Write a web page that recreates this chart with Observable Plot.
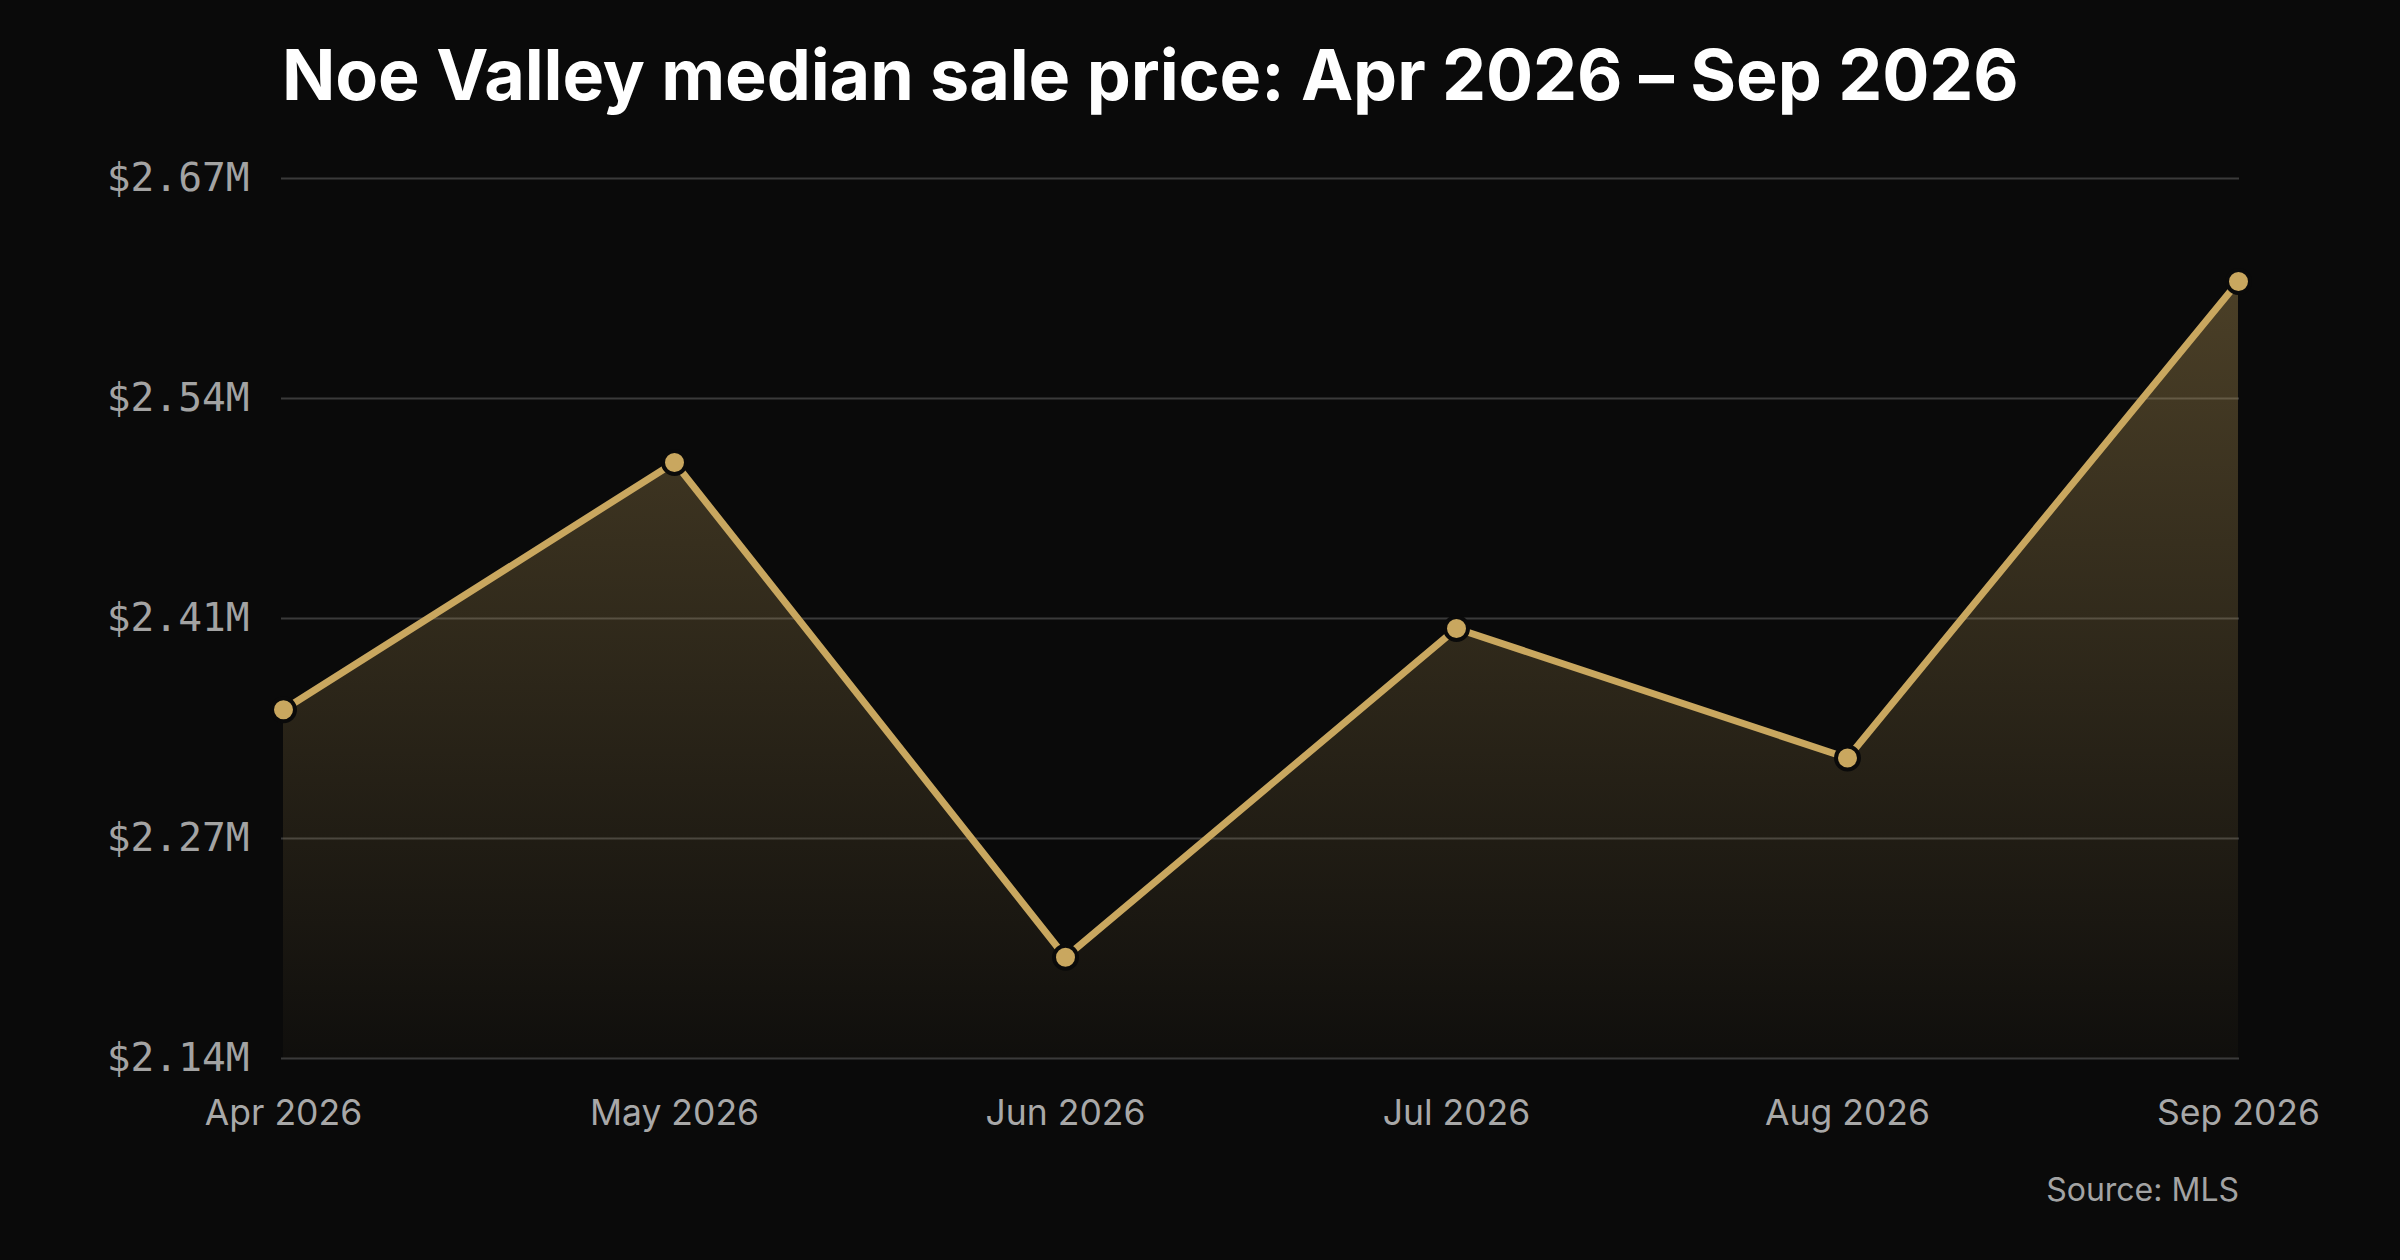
<!DOCTYPE html>
<html>
<head>
<meta charset="utf-8">
<script src="https://cdn.jsdelivr.net/npm/d3@7"></script>
<script src="https://cdn.jsdelivr.net/npm/@observablehq/plot@0.6"></script>
<style>
  html, body { margin: 0; padding: 0; background: #0a0a0a; }
  body { width: 2400px; height: 1260px; overflow: hidden; }
  #title { margin: 0; padding: 40px 0 0 282px; font-family: Inter, "Noto Sans", sans-serif; font-weight: 700; font-size: 70px; line-height: 70px; color: #ffffff; letter-spacing: -0.1px; white-space: nowrap; }
  #caption { padding: 20px 161px 0 0; text-align: right; font-family: Inter, "Noto Sans", sans-serif; font-size: 32px; line-height: 32px; color: #a3a3a3; }
</style>
</head>
<body>
<div id="title">Noe Valley median sale price: Apr 2026 – Sep 2026</div>
<div id="chart"></div>
<div id="caption">Source: MLS</div>
<script>
const months = ["Apr 2026", "May 2026", "Jun 2026", "Jul 2026", "Aug 2026", "Sep 2026"];
const prices = [2350000, 2499000, 2201000, 2399000, 2321000, 2608000];
const yDomain = [2140000, 2670000];
const yTicks = [2140000, 2272500, 2405000, 2537500, 2670000];
const yTickLabels = ["$2.14M", "$2.27M", "$2.41M", "$2.54M", "$2.67M"];

const data = months.map((m, i) => ({month: m, price: prices[i]}));
const gold = "#c9a75f";
const bg = "#0a0a0a";

const chart = Plot.plot({
  width: 2400,
  height: 1044,
  marginTop: 68,
  marginBottom: 96,
  marginLeft: 281,
  marginRight: 161,
  style: {background: bg, color: "#a3a3a3", overflow: "visible"},
  x: {type: "point", domain: months, padding: 0, label: null},
  y: {domain: yDomain, label: null},
  marks: [
    Plot.gridY(yTicks, {stroke: "#3a3a3a", strokeOpacity: 1, strokeWidth: 2}),
    Plot.areaY(data, {x: "month", y1: () => yDomain[0], y2: "price", fill: "url(#areaGrad)"}),
    Plot.lineY(data, {x: "month", y: "price", stroke: gold, strokeWidth: 7, strokeLinejoin: "round"}),
    Plot.dot(data, {x: "month", y: "price", r: 11.5, fill: gold, stroke: bg, strokeWidth: 4}),
    Plot.axisY({ticks: yTicks, tickFormat: (d, i) => yTickLabels[i], tickSize: 0, tickPadding: 32,
      fontFamily: "'DejaVu Sans Mono', monospace", fontSize: 39.5, fill: "#a3a3a3"}),
    Plot.axisX({tickSize: 0, tickPadding: 41, fontFamily: "Inter, 'Noto Sans', sans-serif", fontSize: 35.5, fill: "#a8a8a8"})
  ]
});

const svg = d3.select(chart);
const defs = svg.insert("defs", ":first-child");
const grad = defs.append("linearGradient").attr("id", "areaGrad").attr("x1", 0).attr("y1", 0).attr("x2", 0).attr("y2", 1);
grad.append("stop").attr("offset", "0%").attr("stop-color", gold).attr("stop-opacity", 0.34);
grad.append("stop").attr("offset", "100%").attr("stop-color", gold).attr("stop-opacity", 0.03);

document.getElementById("chart").appendChild(chart);
</script>
</body>
</html>
